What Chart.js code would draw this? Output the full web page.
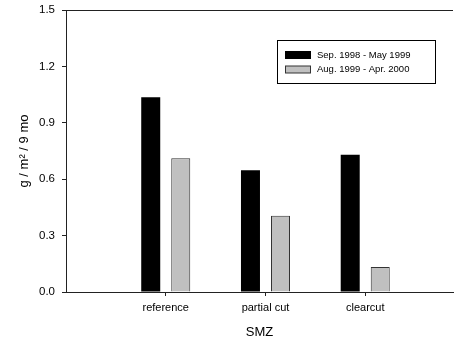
<!DOCTYPE html>
<html>
<head>
<meta charset="utf-8">
<script src="https://cdn.jsdelivr.net/npm/chart.js@4/dist/chart.umd.min.js"></script>
<style>
  html, body { margin: 0; padding: 0; background: #fff; }
  #wrap { width: 454px; height: 345px; }
</style>
</head>
<body>
<div id="wrap"><canvas id="c" width="454" height="345"></canvas></div>
<script>
const categories = ['reference', 'partial cut', 'clearcut'];
const seriesNames = ['Sep. 1998 - May 1999', 'Aug. 1999 - Apr. 2000'];
const series1 = [1.036, 0.647, 0.730];
const series2 = [0.711, 0.406, 0.133];
const yTicks = [0.0, 0.3, 0.6, 0.9, 1.2, 1.5];

const FONT = 'Liberation Sans, Arial, Helvetica, sans-serif';

const toPoints = (vals) => vals.map((v, i) => ({ x: i + 1, y: v }));

const frameAndLegend = {
  id: 'frameAndLegend',
  afterDraw(chart) {
    const { ctx, chartArea } = chart;
    ctx.save();
    // top frame line
    ctx.strokeStyle = '#222';
    ctx.lineWidth = 1;
    ctx.beginPath();
    ctx.moveTo(chartArea.left, chartArea.top + 0.5);
    ctx.lineTo(chartArea.right, chartArea.top + 0.5);
    ctx.stroke();

    // legend box
    const bx = 277.5, by = 40.5, bw = 158, bh = 43;
    ctx.strokeStyle = '#000';
    ctx.strokeRect(bx, by, bw, bh);
    ctx.font = '9.5px ' + FONT;
    ctx.textBaseline = 'middle';
    ctx.textAlign = 'left';
    const rows = [55, 69.5];
    chart.data.datasets.forEach((ds, i) => {
      const cy = rows[i];
      ctx.fillStyle = ds.backgroundColor;
      ctx.fillRect(285, cy - 3.5, 26, 7);
      ctx.strokeStyle = ds.borderColor;
      ctx.lineWidth = 1;
      ctx.strokeRect(285.5, cy - 3.5, 25, 7);
      ctx.fillStyle = '#000';
      ctx.fillText(ds.label, 317, cy);
    });
    ctx.restore();
  }
};

new Chart(document.getElementById('c'), {
  type: 'bar',
  data: {
    datasets: [
      { label: seriesNames[0], data: toPoints(series1), backgroundColor: '#000000', borderColor: '#000000', borderWidth: 0 },
      { label: seriesNames[1], data: toPoints(series2), backgroundColor: '#c0c0c0', borderColor: '#333333', borderWidth: 1 }
    ]
  },
  options: {
    responsive: false,
    animation: false,
    devicePixelRatio: 1,
    layout: { padding: { left: 0, right: 1, top: 10, bottom: 0 } },
    datasets: { bar: { categoryPercentage: 0.602, barPercentage: 0.633, grouped: true } },
    plugins: { legend: { display: false }, tooltip: { enabled: false } },
    scales: {
      x: {
        type: 'linear',
        min: 0,
        max: 3.88,
        offset: false,
        afterBuildTicks: (axis) => { axis.ticks = categories.map((c, i) => ({ value: i + 1 })); },
        afterFit: (scale) => { scale.height = 53; scale.paddingLeft = 0; scale.paddingRight = 0; },
        grid: { offset: false, drawOnChartArea: false, drawTicks: true, tickLength: 4, color: '#222' },
        border: { display: true, color: '#222', width: 1 },
        ticks: {
          autoSkip: false,
          maxRotation: 0,
          padding: 5,
          color: '#000',
          font: { family: FONT, size: 11 },
          callback: (v) => categories[v - 1] ?? ''
        },
        title: { display: true, text: 'SMZ', color: '#000', font: { family: FONT, size: 13 }, padding: { top: 0, bottom: 5 } }
      },
      y: {
        min: 0,
        max: 1.5,
        afterBuildTicks: (axis) => { axis.ticks = yTicks.map(v => ({ value: v })); },
        afterFit: (scale) => { scale.width = 66; scale.paddingTop = 0; scale.paddingBottom = 0; },
        grid: { drawOnChartArea: false, drawTicks: true, tickLength: 4, color: '#222' },
        border: { display: true, color: '#222', width: 1 },
        ticks: {
          padding: 7,
          color: '#000',
          font: { family: FONT, size: 11.5 },
          callback: (v) => Number(v).toFixed(1)
        },
        title: { display: true, text: 'g / m² / 9 mo', color: '#000', font: { family: FONT, size: 13 }, padding: { top: 17, bottom: 0 } }
      }
    }
  },
  plugins: [frameAndLegend]
});
</script>
</body>
</html>
